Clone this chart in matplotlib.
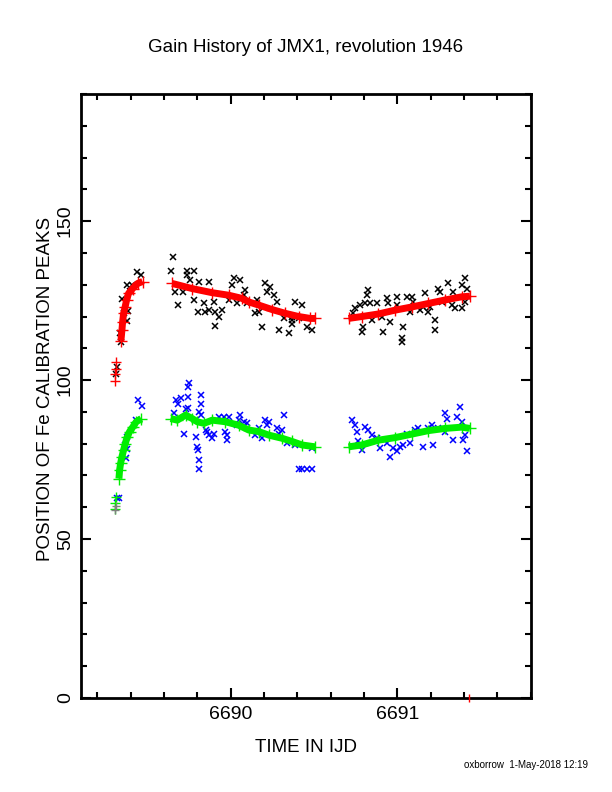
import numpy as np
import matplotlib
matplotlib.use('Agg')
import matplotlib.pyplot as plt
from matplotlib.ticker import MultipleLocator

plt.rcParams['font.family'] = ['Liberation Sans', 'DejaVu Sans']

# Upper peak: raw positions (black x) and smoothed gain (red +)
upper_raw_t = [6689.317, 6689.313, 6689.342, 6689.335, 6689.378, 6689.362, 6689.382, 6689.347,
               6689.395, 6689.405, 6689.380, 6689.44, 6689.46,
               6689.654, 6689.644, 6689.737, 6689.777, 6689.737, 6689.756, 6689.808, 6689.868, 6689.663,
               6689.683, 6689.713, 6689.778, 6689.803, 6689.838, 6689.848, 6689.868, 6689.898, 6689.908,
               6689.948, 6689.928, 6689.904, 6690.008, 6690.018, 6690.058, 6690.088, 6690.078, 6690.038,
               6689.988, 6690.098, 6690.148, 6690.158, 6690.208, 6690.238, 6690.218, 6690.258, 6690.168,
               6690.188, 6690.278, 6690.318, 6690.288, 6690.348, 6690.368, 6690.368, 6690.388, 6690.428,
               6690.488, 6690.458, 6690.368, 6690.408,
               6690.826, 6690.816, 6690.806, 6690.776, 6690.746, 6690.736, 6690.796, 6690.786, 6690.846,
               6690.836, 6690.876, 6690.906, 6690.916, 6690.936, 6690.946, 6690.956, 6690.996, 6690.996,
               6691.036, 6691.026, 6691.026, 6691.056, 6691.086, 6691.096, 6691.076, 6691.136, 6691.166,
               6691.156, 6691.186, 6691.196, 6691.226, 6691.226, 6691.246, 6691.256, 6691.266, 6691.306,
               6691.336, 6691.326, 6691.346, 6691.386, 6691.406, 6691.406, 6691.386, 6691.416]
upper_raw_y = [104.0, 101.9, 112.0, 114.9, 118.6, 121.0, 121.7, 125.6,
               128.0, 130.0, 130.0, 134.0, 133.0,
               138.8, 134.3, 134.3, 134.3, 133.0, 131.4, 130.9, 130.9, 127.8,
               123.6, 127.8, 125.2, 121.5, 124.1, 121.5, 122.0, 124.7, 121.5,
               122.0, 120.0, 117.0, 129.9, 132.0, 131.4, 128.3, 126.7, 124.1,
               125.2, 124.1, 121.0, 125.2, 130.4, 129.3, 127.8, 126.7, 121.5,
               116.8, 124.7, 119.4, 115.9, 114.9, 117.8, 118.9, 124.7, 123.6,
               115.7, 116.8, 120.0, 119.4,
               128.3, 126.7, 124.1, 123.6, 122.6, 121.0, 116.8, 115.2, 118.9,
               124.1, 124.1, 120.0, 115.2, 125.7, 124.1, 118.4, 126.2, 123.6,
               116.8, 113.1, 112.0, 126.2, 126.2, 124.7, 121.5, 122.0, 127.3,
               123.0, 121.5, 123.0, 118.9, 115.7, 128.8, 127.8, 124.7, 130.4,
               127.8, 123.6, 122.6, 129.9, 132.0, 124.7, 122.6, 128.8]

upper_fit_a_t = [6689.313, 6689.313, 6689.307, 6689.307]
upper_fit_a_y = [105.7, 103.6, 102.0, 99.8]
upper_fit_b_t = [6689.341, 6689.347, 6689.351, 6689.357, 6689.366, 6689.375, 6689.387,
                 6689.411, 6689.441, 6689.471]
upper_fit_b_y = [112.4, 115.7, 118.3, 121.0, 123.0, 125.2, 127.3, 128.8, 130.4, 131.0]
upper_fit_c_t = [6689.649, 6689.768, 6689.888, 6689.988, 6690.068, 6690.108, 6690.168,
                 6690.248, 6690.328, 6690.408, 6690.478, 6690.508]
upper_fit_c_y = [130.4, 128.8, 127.5, 126.7, 125.7, 124.6, 123.6, 122.2, 121.0, 120.0, 119.4, 119.4]
upper_fit_d_t = [6690.707, 6690.787, 6690.886, 6690.986, 6691.086, 6691.186, 6691.286, 6691.386, 6691.436]
upper_fit_d_y = [119.4, 120.0, 120.8, 122.0, 123.0, 124.1, 125.2, 126.2, 126.4]

# Lower peak: raw positions (blue x) and smoothed gain (green +)
lower_raw_t = [6689.315, 6689.329, 6689.446, 6689.466, 6689.431, 6689.376, 6689.366, 6689.379, 6689.373,
               6689.748, 6689.742, 6689.822, 6689.742, 6689.672, 6689.702, 6689.682, 6689.822, 6689.742,
               6689.732, 6689.659, 6689.812, 6689.822, 6689.719, 6689.790, 6689.849, 6689.859, 6689.869,
               6689.889, 6689.899, 6689.797, 6689.803, 6689.808, 6689.810, 6689.928, 6689.958, 6689.988,
               6689.978, 6689.978, 6689.968, 6690.058, 6690.048, 6690.078, 6690.098, 6690.038, 6690.168,
               6690.208, 6690.228, 6690.218, 6690.278, 6690.318, 6690.308, 6690.148, 6690.188, 6690.288,
               6690.338, 6690.388, 6690.488, 6690.408, 6690.428, 6690.458, 6690.488,
               6690.726, 6690.746, 6690.756, 6690.806, 6690.826, 6690.846, 6690.766, 6690.786, 6690.876,
               6690.896, 6690.936, 6690.956, 6690.976, 6690.996, 6691.016, 6691.036, 6691.056, 6691.076,
               6691.106, 6691.126, 6691.156, 6691.186, 6691.206, 6691.216, 6691.246, 6691.286, 6691.296,
               6691.286, 6691.336, 6691.356, 6691.376, 6691.386, 6691.406, 6691.396, 6691.416]
lower_raw_y = [62.8, 62.8, 93.7, 92.0, 87.4, 82.2, 79.6, 78.2, 75.4,
               99.0, 97.9, 95.3, 94.8, 93.7, 94.3, 92.6, 92.6, 91.1,
               90.8, 89.5, 90.1, 89.0, 83.2, 82.2, 84.3, 83.8, 82.7,
               81.7, 83.2, 79.0, 78.0, 74.8, 72.0, 88.5, 88.5, 88.5,
               82.7, 81.1, 83.8, 89.0, 87.4, 86.9, 86.4, 85.8, 84.8,
               87.4, 86.9, 85.8, 84.8, 89.0, 84.3, 82.7, 81.7, 83.2,
               80.2, 79.6, 78.6, 72.0, 72.0, 72.0, 72.0,
               87.4, 85.8, 83.8, 85.3, 84.3, 82.7, 80.7, 78.0, 81.7,
               78.6, 80.2, 75.9, 78.6, 77.6, 79.1, 79.6, 83.2, 80.2,
               84.3, 84.8, 79.1, 84.8, 85.8, 79.6, 84.8, 89.5, 87.9,
               83.8, 81.1, 88.5, 91.6, 86.9, 82.7, 81.1, 77.7]

lower_fit_a_t = [6689.307, 6689.307, 6689.309]
lower_fit_a_y = [59.6, 61.2, 63.3]
lower_fit_b_t = [6689.329, 6689.333, 6689.339, 6689.347, 6689.357, 6689.367, 6689.379, 6689.393,
                 6689.413, 6689.433, 6689.463]
lower_fit_b_y = [69.0, 71.7, 73.8, 75.9, 78.0, 80.0, 82.2, 83.8, 85.3, 86.9, 87.9]
lower_fit_c_t = [6689.639, 6689.679, 6689.729, 6689.769, 6689.799, 6689.839, 6689.889, 6689.968,
                 6690.048, 6690.108, 6690.168, 6690.228, 6690.308, 6690.368, 6690.428, 6690.508]
lower_fit_c_y = [87.9, 87.4, 89.0, 87.9, 86.9, 86.4, 87.4, 86.9, 85.8, 84.3, 83.8, 82.7, 81.7, 80.7,
                 79.6, 79.0]
lower_fit_d_t = [6690.707, 6690.787, 6690.886, 6690.986, 6691.086, 6691.186, 6691.286, 6691.386, 6691.436]
lower_fit_d_y = [79.0, 79.6, 81.1, 81.9, 83.0, 84.1, 84.8, 85.2, 84.8]

grey_t = [6689.307, 6689.311]
grey_y = [59.0, 60.5]

stray_t = [6691.43]
stray_y = [0.0]

fig = plt.figure(figsize=(6.12, 7.92), dpi=100)
ax = fig.add_axes([0.132, 0.1187, 0.735, 0.7626])

ax.plot(upper_raw_t, upper_raw_y, 'x', color='black', ms=4, mew=1.1)
ax.plot(lower_raw_t, lower_raw_y, 'x', color='blue', ms=4, mew=1.1)

ax.plot(upper_fit_a_t, upper_fit_a_y, '+', color='red', ms=7, mew=1.0)
for tt, yy in [(upper_fit_b_t, upper_fit_b_y), (upper_fit_c_t, upper_fit_c_y), (upper_fit_d_t, upper_fit_d_y)]:
    ax.plot(tt, yy, '-', color='red', lw=5, marker='+', ms=8, mew=1.0, solid_capstyle='butt')

ax.plot(lower_fit_a_t, lower_fit_a_y, '+', color='#00ee00', ms=7, mew=1.0)
for tt, yy in [(lower_fit_b_t, lower_fit_b_y), (lower_fit_c_t, lower_fit_c_y), (lower_fit_d_t, lower_fit_d_y)]:
    ax.plot(tt, yy, '-', color='#00ee00', lw=5, marker='+', ms=8, mew=1.0, solid_capstyle='butt')

ax.plot(grey_t, grey_y, '+', color='grey', ms=6, mew=1.0)
ax.plot(stray_t, stray_y, '|', color='red', ms=6, mew=1.0, clip_on=False, zorder=5)

ax.set_xlim(6689.1, 6691.8)
ax.set_ylim(0, 190)
ax.xaxis.set_major_locator(MultipleLocator(1))
ax.xaxis.set_minor_locator(MultipleLocator(0.2))
ax.yaxis.set_major_locator(MultipleLocator(50))
ax.yaxis.set_minor_locator(MultipleLocator(10))
ax.xaxis.set_major_formatter(plt.FormatStrFormatter('%d'))

ax.tick_params(which='both', direction='in', top=True, right=True, width=1.5, labelsize=14)
ax.tick_params(which='major', length=7)
ax.tick_params(which='minor', length=4.5)
ax.tick_params(axis='x', pad=6)
ax.tick_params(axis='y', pad=5)
for lab in ax.get_yticklabels():
    lab.set_rotation(90)
    lab.set_va('center')
for sp in ax.spines.values():
    sp.set_linewidth(2)

ax.set_xlabel('TIME IN IJD', fontsize=13.5, labelpad=11)
ax.set_ylabel('POSITION OF Fe CALIBRATION PEAKS', fontsize=13.5)
ax.yaxis.set_label_coords(-0.060, 0.512)
fig.text(0.5, 0.940, 'Gain History of JMX1, revolution 1946', ha='center', va='center', fontsize=13.5)
fig.text(0.96, 0.034, 'oxborrow  1-May-2018 12:19', ha='right', va='center', fontsize=7)

fig.savefig('out.png', dpi=100)
